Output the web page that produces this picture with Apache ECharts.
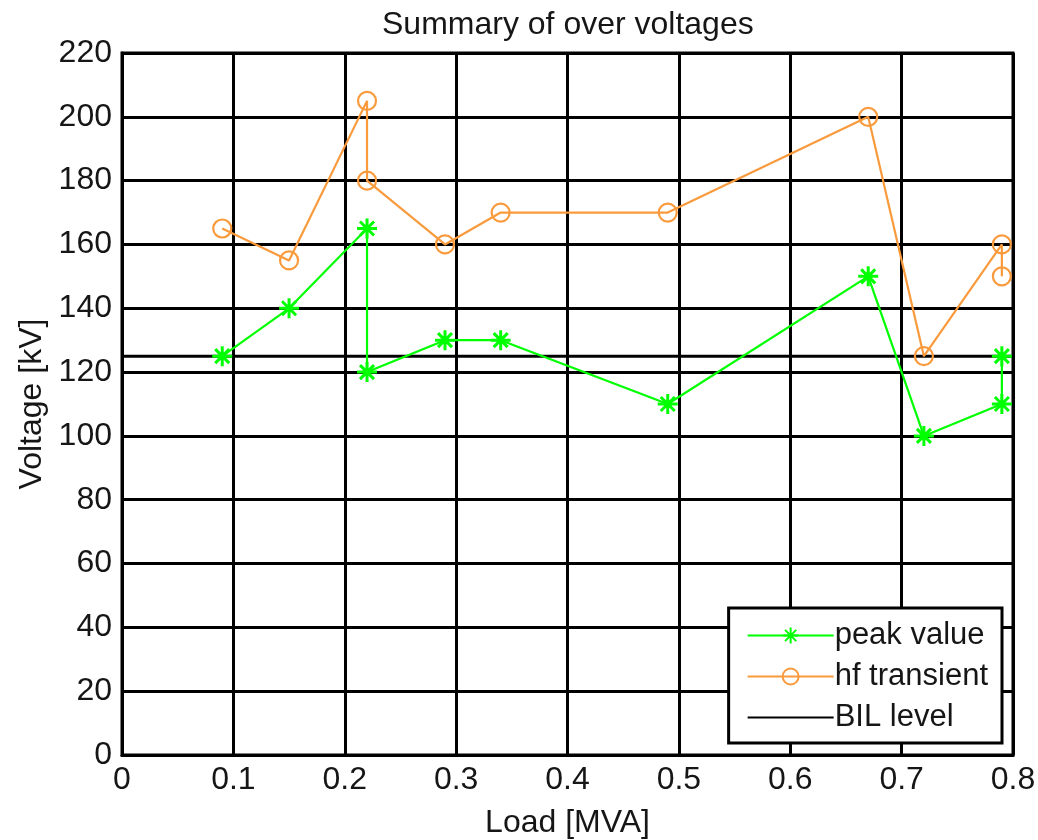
<!DOCTYPE html>
<html>
<head>
<meta charset="utf-8">
<title>Summary of over voltages</title>
<script src="https://cdn.jsdelivr.net/npm/echarts@6/dist/echarts.min.js"></script>
<style>
  html, body { margin: 0; padding: 0; background: #fff; }
  #chart { width: 1038px; height: 840px; }
</style>
</head>
<body>
<div id="chart"></div>
<script>
// Load points (MVA) shared by both measured series
const loads = [0.09, 0.15, 0.22, 0.22, 0.29, 0.34, 0.49, 0.67, 0.72, 0.79, 0.79];
// Peak over-voltage (kV)
const peakValues = [125, 140, 165, 120, 130, 130, 110, 150, 100, 110, 125];
// High-frequency transient (kV)
const hfTransient = [165, 155, 205, 180, 160, 170, 170, 200, 125, 160, 150];
// Basic insulation level (kV)
const bilLevel = 125;
const bilRange = [0, 0.8];

const xTickLabels = ['0', '0.1', '0.2', '0.3', '0.4', '0.5', '0.6', '0.7', '0.8'];
const yTickLabels = ['0', '20', '40', '60', '80', '100', '120', '140', '160', '180', '200', '220'];

const seriesNames = ['peak value', 'hf transient', 'BIL level'];

const FONT = '"Liberation Sans", Arial, sans-serif';
const TEXT = '#161616';
const GREEN = '#00ff00';
const ORANGE = '#f99a3c';

const pairs = (xs, ys) => xs.map((x, i) => [x, ys[i]]);

// asterisk marker: plus and cross strokes
const asterisk = 'path://M0,-10L0,10M-10,0L10,0M-7,-7L7,7M-7,7L7,-7';

const chart = echarts.init(document.getElementById('chart'), null, { renderer: 'canvas' });

chart.setOption({
  animation: false,
  backgroundColor: '#fff',
  title: {
    text: 'Summary of over voltages',
    left: 377,
    top: 4,
    textStyle: { fontFamily: FONT, fontSize: 32, fontWeight: 'normal', color: TEXT }
  },
  grid: {
    left: 122, right: 25, top: 53, bottom: 85,
    containLabel: false,
    outerBoundsMode: 'none',
    show: true, borderColor: '#000', borderWidth: 3, backgroundColor: '#fff'
  },
  legend: {
    data: [
      { name: seriesNames[0] },
      { name: seriesNames[1] },
      // plain line sample, no marker
      { name: seriesNames[2], itemStyle: { color: 'rgba(0,0,0,0)', borderWidth: 0 } }
    ],
    orient: 'vertical',
    right: 36,
    bottom: 97,
    itemWidth: 86,
    itemHeight: 20,
    itemGap: 10,
    padding: [12, 14, 10, 18],
    borderColor: '#000',
    borderWidth: 3,
    backgroundColor: '#fff',
    textStyle: { fontFamily: FONT, fontSize: 31, color: TEXT, padding: [0, 0, 0, -4] }
  },
  xAxis: {
    type: 'value',
    min: 0, max: 0.8, interval: 0.1,
    name: 'Load [MVA]',
    nameLocation: 'middle',
    nameGap: 52,
    nameTextStyle: { fontFamily: FONT, fontSize: 32, color: TEXT },
    axisLine: { show: true, onZero: false, lineStyle: { color: '#000', width: 3 } },
    axisTick: { show: true, inside: true, length: 4, lineStyle: { color: '#000', width: 3 } },
    axisLabel: {
      fontFamily: FONT, fontSize: 32, color: TEXT, margin: 9,
      formatter: v => xTickLabels[Math.round(v * 10)]
    },
    splitLine: { show: true, lineStyle: { color: '#000', width: 3 } }
  },
  yAxis: {
    type: 'value',
    min: 0, max: 220, interval: 20,
    name: 'Voltage [kV]',
    nameLocation: 'middle',
    nameGap: 72,
    nameTextStyle: { fontFamily: FONT, fontSize: 32, color: TEXT },
    axisLine: { show: true, onZero: false, lineStyle: { color: '#000', width: 3 } },
    axisTick: { show: true, inside: true, length: 4, lineStyle: { color: '#000', width: 3 } },
    axisLabel: {
      fontFamily: FONT, fontSize: 32, color: TEXT, margin: 10,
      formatter: v => yTickLabels[Math.round(v / 20)]
    },
    splitLine: { show: true, lineStyle: { color: '#000', width: 3 } }
  },
  series: [
    {
      name: seriesNames[0],
      type: 'line',
      data: pairs(loads, peakValues),
      symbol: asterisk,
      symbolSize: 20,
      color: GREEN,
      lineStyle: { color: GREEN, width: 2.2 },
      itemStyle: { color: GREEN, borderColor: GREEN, borderWidth: 3 },
      z: 4
    },
    {
      name: seriesNames[1],
      type: 'line',
      data: pairs(loads, hfTransient),
      symbol: 'circle',
      symbolSize: 18,
      color: ORANGE,
      lineStyle: { color: ORANGE, width: 2.2 },
      itemStyle: { color: 'rgba(255,255,255,0)', borderColor: ORANGE, borderWidth: 2.2 },
      z: 4
    },
    {
      name: seriesNames[2],
      type: 'line',
      data: bilRange.map(x => [x, bilLevel]),
      symbol: 'none',
      color: '#000',
      lineStyle: { color: '#000', width: 3 },
      z: 3
    }
  ]
});
</script>
</body>
</html>
